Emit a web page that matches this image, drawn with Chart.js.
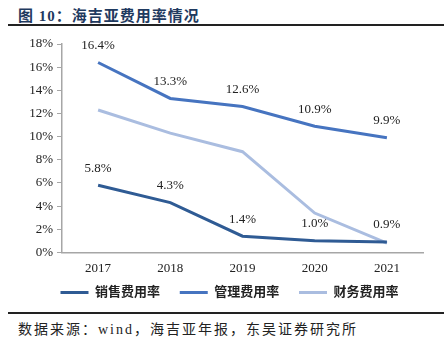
<!DOCTYPE html>
<html>
<head>
<meta charset="utf-8">
<script src="https://cdn.jsdelivr.net/npm/chart.js@4/dist/chart.umd.min.js"></script>
<style>
  html, body { margin: 0; padding: 0; background: #fff; }
  body { width: 444px; height: 351px; position: relative; overflow: hidden; font-family: "Liberation Serif", "Noto Sans CJK SC", serif; }
  #title { position: absolute; left: 18px; top: 4px; font-size: 15px; font-weight: bold; color: #1f3a60; letter-spacing: 1px; }
  #rule1 { position: absolute; left: 8px; right: 0; top: 24px; height: 2px; background: #222; }
  #rule2 { position: absolute; left: 8px; right: 0; top: 312px; height: 2px; background: #222; }
  #source { position: absolute; left: 18px; top: 318px; font-size: 14px; color: #222; letter-spacing: 2px; }
  #wrap { position: absolute; left: 0; top: 30px; width: 444px; height: 279px; }
</style>
</head>
<body>
<div id="title">图 10：海吉亚费用率情况</div>
<div id="rule1"></div>
<div id="wrap"><canvas id="rateChart"></canvas></div>
<div id="rule2"></div>
<div id="source">数据来源：wind，海吉亚年报，东吴证券研究所</div>
<script>
const years = ['2017', '2018', '2019', '2020', '2021'];
const salesRate = [5.8, 4.3, 1.4, 1.0, 0.9];
const adminRate = [16.4, 13.3, 12.6, 10.9, 9.9];
const financeRate = [12.3, 10.3, 8.7, 3.4, 0.8];
const seriesNames = ['销售费用率', '管理费用率', '财务费用率'];

const serif = '"Liberation Serif", "Noto Sans CJK SC", serif';

// labels above the first two series
const pointLabels = {
  id: 'pointLabels',
  afterDatasetsDraw(chart) {
    const ctx = chart.ctx;
    ctx.save();
    ctx.font = '13px ' + serif;
    ctx.fillStyle = '#222';
    ctx.textAlign = 'center';
    ctx.textBaseline = 'middle';
    [0, 1].forEach(i => {
      const meta = chart.getDatasetMeta(i);
      meta.data.forEach((pt, j) => {
        const v = chart.data.datasets[i].data[j];
        ctx.fillText(v.toFixed(1) + '%', pt.x, pt.y - 17);
      });
    });
    ctx.restore();
  }
};

// nudge the legend so it sits roughly under the plot area
const legendShift = {
  id: 'legendShift',
  afterLayout(chart) {
    chart.legend.left = chart.chartArea.left - 26;
    chart.legend.right = chart.chartArea.right;
  }
};

const ctx = document.getElementById('rateChart').getContext('2d');
new Chart(ctx, {
  type: 'line',
  data: {
    labels: years,
    datasets: [
      { label: seriesNames[0], data: salesRate, borderColor: '#2f5b94', backgroundColor: '#2f5b94' },
      { label: seriesNames[1], data: adminRate, borderColor: '#4674c0', backgroundColor: '#4674c0' },
      { label: seriesNames[2], data: financeRate, borderColor: '#aabde0', backgroundColor: '#aabde0' }
    ].map(d => Object.assign(d, { borderWidth: 3, pointRadius: 0, tension: 0, fill: false }))
  },
  options: {
    responsive: true,
    maintainAspectRatio: false,
    animation: false,
    layout: { padding: { left: 0, right: 21, top: 14, bottom: 0 } },
    plugins: {
      title: { display: false },
      tooltip: { enabled: false },
      legend: {
        position: 'bottom',
        labels: {
          boxWidth: 28,
          boxHeight: 3,
          padding: 10,
          color: '#222',
          font: { family: serif, size: 13, weight: 'bold' },
          generateLabels: chart => {
            const items = Chart.defaults.plugins.legend.labels.generateLabels(chart);
            // thin line samples, a bit more room between entries
            items.forEach((it, i) => {
              it.lineWidth = 0;
              if (i < items.length - 1) it.text = it.text + '   ';
            });
            return items;
          }
        }
      }
    },
    scales: {
      x: {
        offset: true,
        grid: { display: false },
        border: { display: true, color: '#a6a6a6', width: 1.5 },
        ticks: { color: '#222', font: { family: serif, size: 13 }, padding: 0 }
      },
      y: {
        min: 0,
        max: 18,
        afterFit: s => { s.width = 62; },
        grid: { drawOnChartArea: false, drawTicks: true, tickLength: 5, color: '#a6a6a6' },
        border: { display: true, color: '#a6a6a6', width: 1.5 },
        ticks: {
          stepSize: 2,
          color: '#222',
          padding: 4,
          font: { family: serif, size: 13 },
          callback: v => v + '%'
        }
      }
    }
  },
  plugins: [pointLabels, legendShift]
});
</script>
</body>
</html>
